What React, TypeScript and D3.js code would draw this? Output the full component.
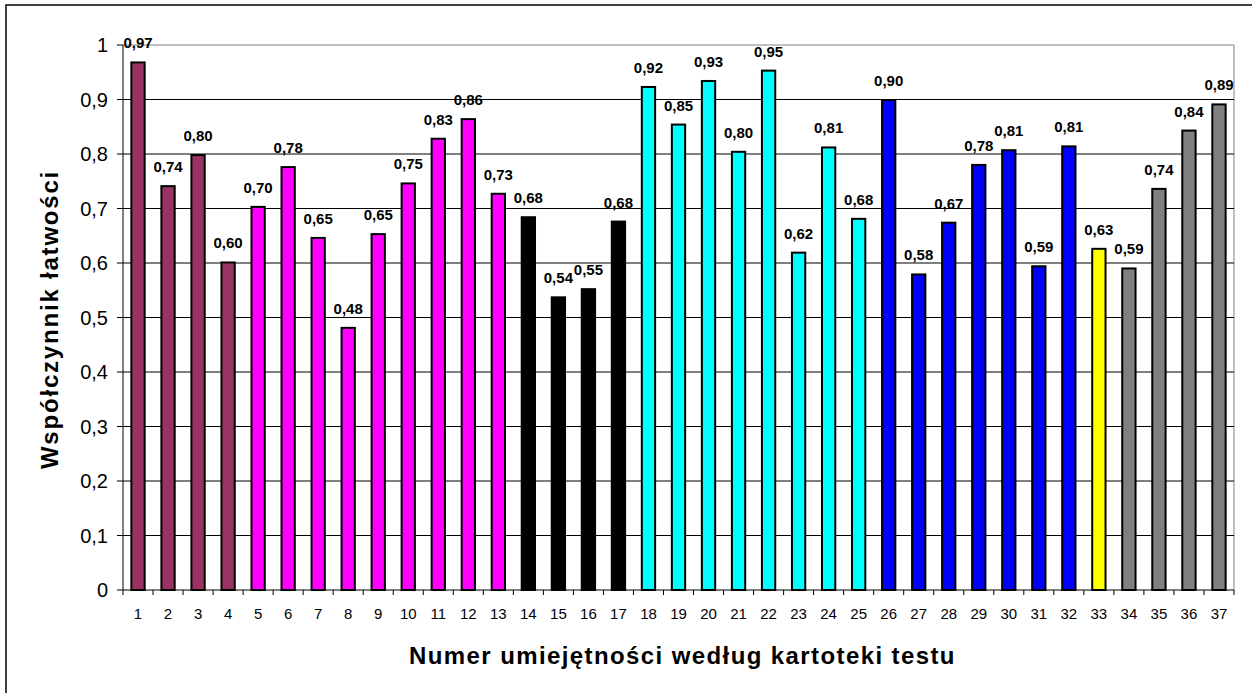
import React from 'react';
import * as d3 from 'd3';

// skill numbers (x categories)
const skills = d3.range(1, 38).map(String);

// facility index per skill
const values = [
  0.968, 0.741, 0.798, 0.601, 0.703, 0.776, 0.646, 0.481, 0.653, 0.746,
  0.828, 0.864, 0.727, 0.684, 0.537, 0.552, 0.676, 0.923, 0.854, 0.934,
  0.804, 0.953, 0.619, 0.812, 0.681, 0.899, 0.579, 0.674, 0.780, 0.807,
  0.594, 0.814, 0.626, 0.590, 0.736, 0.843, 0.891,
];

// colour groups: [first skill, last skill, fill]
const groups: [number, number, string][] = [
  [1, 4, '#993366'],
  [5, 13, '#FF00FF'],
  [14, 17, '#000000'],
  [18, 25, '#00FFFF'],
  [26, 32, '#0000FF'],
  [33, 33, '#FFFF00'],
  [34, 37, '#808080'],
];

const yTicks = [0, 0.1, 0.2, 0.3, 0.4, 0.5, 0.6, 0.7, 0.8, 0.9, 1];

const fmt = (v: number) => v.toFixed(2).replace('.', ',');
const fmtTick = (v: number) => (v === 0 || v === 1 ? String(v) : String(+v.toFixed(1)).replace('.', ','));

const colorOf = (n: number) => {
  const g = groups.find(([a, b]) => n >= a && n <= b);
  return g ? g[2] : '#808080';
};

export default function App() {
  const width = 1252;
  const height = 693;
  const m = { left: 123, right: 1234, top: 45, bottom: 590 };
  const font = '"Liberation Sans", Arial, sans-serif';

  const x = d3.scaleBand<string>()
    .domain(skills)
    .range([m.left, m.right])
    .paddingInner(0.557)
    .paddingOuter(0.2785);

  const xCat = d3.scaleBand<string>().domain(skills).range([m.left, m.right]);

  const y = d3.scaleLinear().domain([0, 1]).range([m.bottom, m.top]);

  return (
    <svg
      width={width}
      height={height}
      style={{ position: 'absolute', left: 0, top: 0, display: 'block', background: '#fff' }}
      fontFamily={font}
    >
      {/* outer chart border (runs past the right and bottom edges) */}
      <rect x={6} y={5} width={1260} height={700} fill="#fff" stroke="#000" strokeWidth={1.5} />

      {/* plot area border */}
      <line x1={m.left} x2={m.right} y1={m.top} y2={m.top} stroke="#808080" />
      <line x1={m.right} x2={m.right} y1={m.top} y2={m.bottom} stroke="#808080" />

      {/* gridlines */}
      {yTicks.slice(1, -1).map((t) => (
        <line key={t} x1={m.left} x2={m.right} y1={y(t)} y2={y(t)} stroke="#000" strokeWidth={1} />
      ))}

      {/* bars */}
      {values.map((v, i) => (
        <rect
          key={i}
          x={x(skills[i])!}
          y={y(v)}
          width={x.bandwidth()}
          height={y(0) - y(v)}
          fill={colorOf(i + 1)}
          stroke="#000"
          strokeWidth={2}
        />
      ))}

      {/* value labels */}
      {values.map((v, i) => (
        <text
          key={i}
          x={x(skills[i])! + x.bandwidth() / 2}
          y={y(v) - 14}
          textAnchor="middle"
          fontSize={15}
          fontWeight="bold"
          fill="#000"
        >
          {fmt(v)}
        </text>
      ))}

      {/* y axis */}
      <line x1={m.left} x2={m.left} y1={m.top} y2={m.bottom} stroke="#000" />
      {yTicks.map((t) => (
        <g key={t}>
          <line x1={m.left - 6} x2={m.left} y1={y(t)} y2={y(t)} stroke="#000" />
          <text x={m.left - 15} y={y(t)} dy="0.35em" textAnchor="end" fontSize={20} fill="#000">
            {fmtTick(t)}
          </text>
        </g>
      ))}

      {/* x axis */}
      <line x1={m.left} x2={m.right} y1={m.bottom} y2={m.bottom} stroke="#000" />
      {skills.concat(['end']).map((s, i) => {
        const px = i < skills.length ? xCat(s)! : m.right;
        return <line key={'t' + i} x1={px} x2={px} y1={m.bottom} y2={m.bottom + 5} stroke="#000" />;
      })}
      {skills.map((s) => (
        <text
          key={s}
          x={xCat(s)! + xCat.bandwidth() / 2}
          y={619}
          textAnchor="middle"
          fontSize={15}
          fill="#000"
        >
          {s}
        </text>
      ))}

      {/* axis titles */}
      <text
        x={(m.left + m.right) / 2 + 4}
        y={664}
        textAnchor="middle"
        fontSize={24}
        fontWeight="bold"
        letterSpacing={1.4}
        fill="#000"
      >
        Numer umiejętności według kartoteki testu
      </text>
      <text
        transform={`translate(58, ${(m.top + m.bottom) / 2 + 2}) rotate(-90)`}
        textAnchor="middle"
        fontSize={24}
        fontWeight="bold"
        letterSpacing={1.8}
        fill="#000"
      >
        Współczynnik łatwości
      </text>
    </svg>
  );
}
